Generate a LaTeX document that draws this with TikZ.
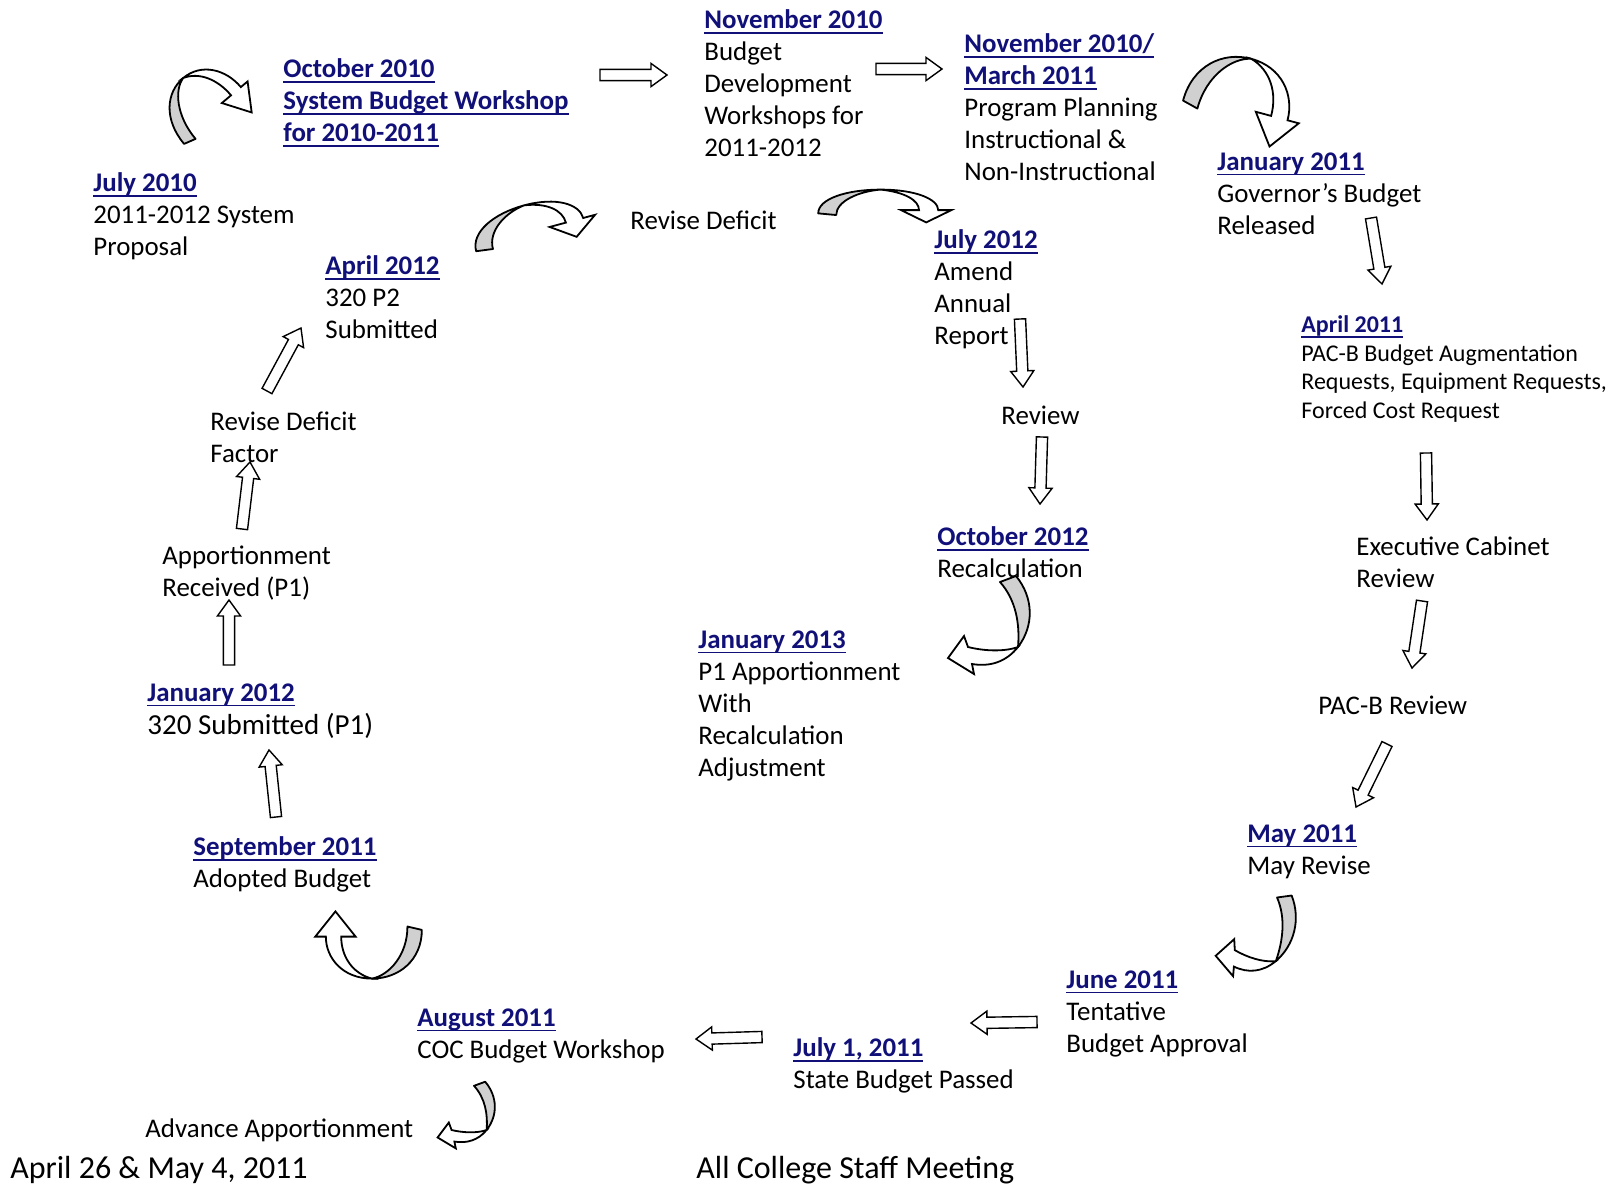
\documentclass[tikz,border=0pt]{standalone}
\usepackage{fontspec}
\setmainfont{Carlito}
\usetikzlibrary{calc}

\definecolor{navy}{RGB}{16,16,120}
\definecolor{ribbon}{RGB}{208,208,208}
\newsavebox\monbox
\newcommand\mon[1]{{\color{navy}\bfseries\sbox\monbox{#1}\rlap{\rule[-2.7pt]{\wd\monbox}{0.9pt}}\usebox\monbox}}

\tikzset{
  lbl/.style={anchor=north west, inner sep=0pt, align=left, font={\fontsize{13.45}{16}\selectfont}},
  small/.style={lbl, font={\fontsize{12}{14.4}\selectfont}},
  big/.style={lbl, font={\fontsize{16}{19}\selectfont}},
  hollow/.style={draw=black, line width=0.7pt, fill=white, line join=miter,
    to path={let \p1=($(\tikztotarget)-(\tikztostart)$), \n1={atan2(\y1,\x1)}, \n2={veclen(\x1,\y1)} in
      [shift={(\tikztostart)}, rotate=\n1]
      (0pt,-2.8pt) -- (\n2-8pt,-2.8pt) -- (\n2-8pt,-5.8pt) -- (\n2+0pt,0pt)
      -- (\n2-8pt,5.8pt) -- (\n2-8pt,2.8pt) -- (0pt,2.8pt) -- cycle}},
  curlyback/.style={draw=black, line width=0.9pt, fill=ribbon, line join=round},
  curlyfront/.style={draw=black, line width=0.9pt, fill=white, line join=miter},
  % arc over the top, head pointing down on the right
  pics/curly/.style={code={
    \filldraw[curlyback] (-54,18) .. controls (-54,-18) and (-30,-40) .. (-2,-40)
      .. controls (-20,-36) and (-39,-12) .. (-39,22) -- cycle;
    \filldraw[curlyfront] (-2,-40) .. controls (28,-40) and (46,-16) .. (46,10)
      -- (57,10) -- (36,40) -- (15,10) -- (30,10)
      .. controls (30,-14) and (18,-34) .. (-2,-40) -- cycle;
  }},
  % down the right side, head pointing left at the bottom
  pics/hook/.style={code={
    \filldraw[curlyback] (10,-40) -- (26,-46) .. controls (44,-24) and (44,4) .. (28,25)
      .. controls (30,2) and (26,-22) .. (10,-40) -- cycle;
    \filldraw[curlyfront] (28,25) .. controls (16,40) and (0,45) .. (-18,42)
      -- (-16,52) -- (-42,36) -- (-26,14) -- (-22,25)
      .. controls (-6,29) and (14,30) .. (28,25) -- cycle;
  }},
}

\begin{document}
\begin{tikzpicture}[x=0.5pt, y=-0.5pt]
  \useasboundingbox (0,0) rectangle (1616,1184);

  % dates and steps
  \node[lbl] (nov10) at (704,9) {\mon{November 2010}\\Budget\\Development\\Workshops for\\2011-2012};
  \node[lbl] (nov10b) at (964,33) {\mon{November 2010/}\\\mon{March 2011}\\Program Planning\\Instructional \&\\Non-Instructional};
  \node[lbl] (oct10) at (283,58) {\mon{October 2010}\\\mon{System Budget Workshop}\\\mon{for 2010-2011}};
  \node[lbl] (jul10) at (93,172) {\mon{July 2010}\\2011-2012 System\\Proposal};
  \node[lbl] (jan11) at (1217,152) {\mon{January 2011}\\Governor’s Budget\\Released};
  \node[lbl] (apr12) at (325,255) {\mon{April 2012}\\320 P2\\Submitted};
  \node[lbl] (revdef) at (630,210) {Revise Deficit};
  \node[lbl] (jul12) at (934,229) {\mon{July 2012}\\Amend\\Annual\\Report};
  \node[small] (apr11) at (1301,315) {\mon{April 2011}\\PAC-B Budget Augmentation\\Requests, Equipment Requests,\\Forced Cost Request};
  \node[lbl] (revfac) at (210,411) {Revise Deficit\\Factor};
  \node[lbl] (review) at (1001,406) {Review};
  \node[lbl] (oct12) at (937,526) {\mon{October 2012}\\Recalculation};
  \node[lbl] (exec) at (1356,536) {Executive Cabinet\\Review};
  \node[lbl] (apprec) at (162,545) {Apportionment\\Received (P1)};
  \node[lbl] (jan13) at (698,630) {\mon{January 2013}\\P1 Apportionment\\With\\Recalculation\\Adjustment};
  \node[lbl] (jan12) at (147,683) {\mon{January 2012}\\[0.5pt]{\fontsize{14.5}{17}\selectfont 320 Submitted (P1)}};
  \node[lbl] (pacb) at (1318,696) {PAC-B Review};
  \node[lbl] (may11) at (1247,824) {\mon{May 2011}\\May Revise};
  \node[lbl] (sep11) at (193,836) {\mon{September 2011}\\Adopted Budget};
  \node[lbl] (jun11) at (1066,970) {\mon{June 2011}\\Tentative\\Budget Approval};
  \node[lbl] (aug11) at (417,1008) {\mon{August 2011}\\COC Budget Workshop};
  \node[lbl] (jul111) at (793,1037) {\mon{July 1, 2011}\\State Budget Passed};
  \node[lbl] (advapp) at (145,1118) {Advance Apportionment};

  % footer
  \node[big] (date) at (10,1156) {April 26 \& May 4, 2011};
  \node[big] (meet) at (696,1156) {All College Staff Meeting};

  % block arrows
  \coordinate (s1) at (600,75);   \coordinate (e1) at (667,75);
  \coordinate (s2) at (876,69);   \coordinate (e2) at (942,69);
  \coordinate (s3) at (1371,218); \coordinate (e3) at (1382,284);
  \coordinate (s4) at (1426,453); \coordinate (e4) at (1427,520);
  \coordinate (s5) at (1422,601); \coordinate (e5) at (1412,668);
  \coordinate (s6) at (1387,744); \coordinate (e6) at (1356,807);
  \coordinate (s7) at (1037,1022); \coordinate (e7) at (971,1023);
  \coordinate (s8) at (762,1037); \coordinate (e8) at (696,1039);
  \coordinate (s9) at (276,817);  \coordinate (e9) at (269,750);
  \coordinate (s10) at (229,665); \coordinate (e10) at (229,600);
  \coordinate (s11) at (242,529); \coordinate (e11) at (250,462);
  \coordinate (s12) at (267,391); \coordinate (e12) at (301,328);
  \coordinate (s13) at (1020,319); \coordinate (e13) at (1023,387);
  \coordinate (s14) at (1042,437); \coordinate (e14) at (1040,504);
  \foreach \i in {1,...,14}
    \draw[hollow] (s\i) to (e\i);

  % curved arrows
  \pic[rotate=40, xscale=0.8, yscale=0.88] at (207,104) {curly};
  \pic[rotate=15, xscale=1.12, yscale=0.55] at (532,226) {curly};
  \pic[xscale=1.2, yscale=0.41] at (883,206) {curly};
  \pic[rotate=-15, xscale=1.06] at (1243,98) {curly};
  \pic[rotate=180, xscale=0.96, yscale=0.84] at (370,945) {curly};
  \pic at (990,622) {hook};
  \pic[rotate=-15, xscale=0.85, yscale=0.95] at (1259,932) {hook};
  \pic[xscale=0.7, yscale=0.68] at (467,1113) {hook};
\end{tikzpicture}
\end{document}
